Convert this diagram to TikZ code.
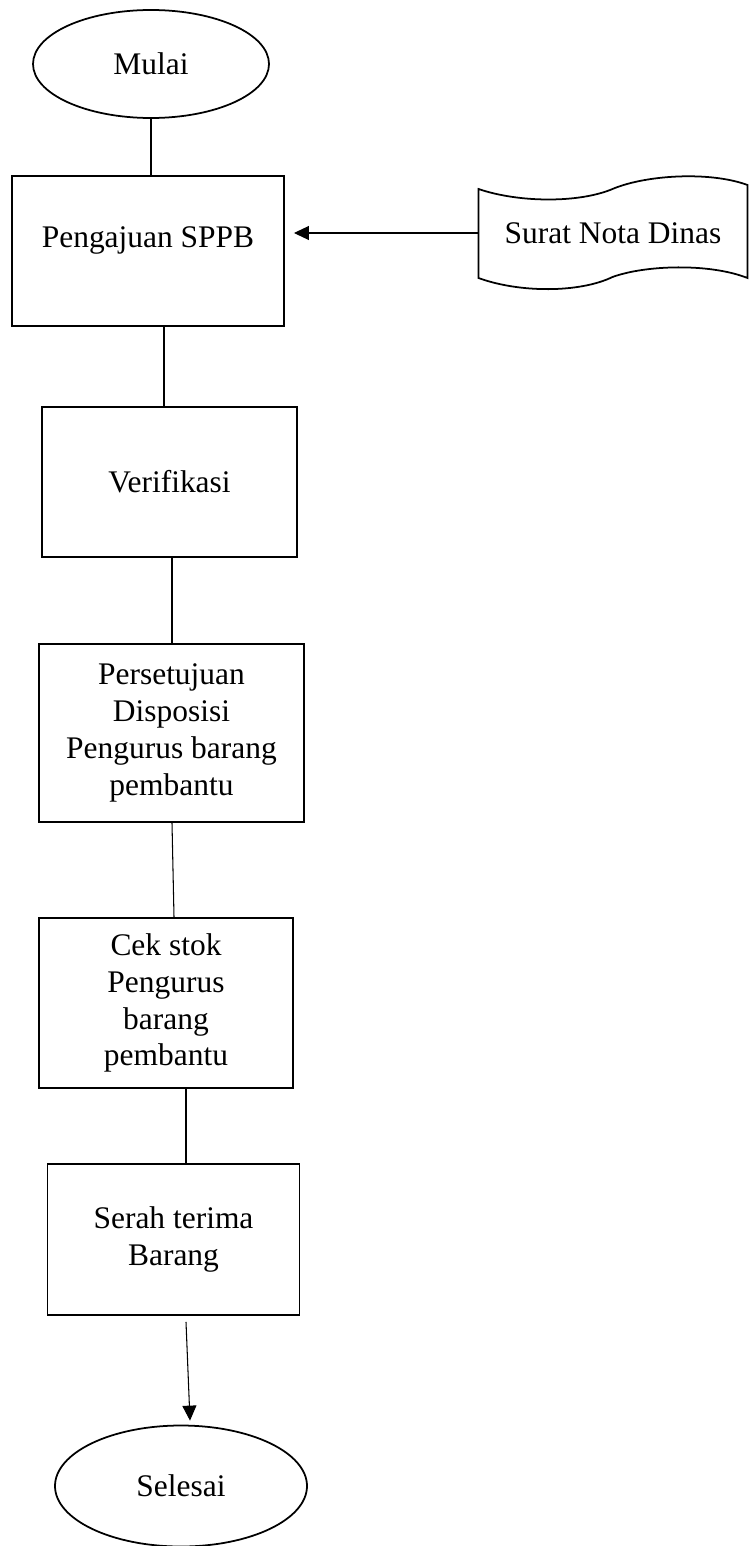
\documentclass[tikz,border=0pt]{standalone}
\usepackage{fontspec}
\setmainfont{Liberation Serif}
\usetikzlibrary{shapes.geometric, arrows.meta, calc}

\begin{document}
\begin{tikzpicture}[
    terminal/.style={ellipse, draw, line width=1pt, inner sep=0pt, font=\fontsize{17.9}{21}\selectfont},
    process/.style={rectangle, draw, line width=1.1pt, inner sep=2pt, align=center, font=\fontsize{17.9}{21}\selectfont},
    document/.style={rectangle, inner sep=0pt, font=\fontsize{17.9}{21}\selectfont},
    line/.style={line width=0.6pt},
    arrow/.style={line width=0.6pt, -{Triangle[length=0.3cm, width=0.28cm]}}
  ]

    % Canvas
    \useasboundingbox (0,0) rectangle (14.98,-30.92);

    % Start / end
    \node[terminal, minimum width=4.72cm, minimum height=2.16cm] (mulai) at (3.02,-1.28) {Mulai};
    \node[terminal, minimum width=5.04cm, minimum height=2.42cm] (selesai) at (3.62,-29.72) {Selesai};

    % Process steps
    \node[process, minimum width=5.44cm, minimum height=3.0cm, text depth=0.56cm] (ajukan) at (2.96,-5.02) {Pengajuan SPPB};
    \node[process, minimum width=5.1cm, minimum height=3.0cm] (verif) at (3.39,-9.64) {Verifikasi};
    \node[process, minimum width=5.3cm, minimum height=3.56cm] (setuju) at (3.43,-14.66) {Persetujuan\\Disposisi\\Pengurus barang\\pembantu};
    \node[process, minimum width=5.08cm, minimum height=3.4cm] (cek) at (3.32,-20.06) {Cek stok\\Pengurus\\barang\\pembantu};
    \node[process, minimum width=5.04cm, minimum height=3.02cm] (serah) at (3.47,-24.79) {Serah terima\\Barang};

    % Input document
    \node[document, minimum width=5.38cm, minimum height=1.8cm] (surat) at (12.26,-4.66) {Surat Nota Dinas};
    \draw[line width=1pt, shift={(surat.center)}]
      (-2.69,0.88) .. controls (-1.87,0.60) and (-0.67,0.60) .. (-0.01,0.88)
      .. controls (0.65,1.16) and (1.93,1.24) .. (2.69,0.96) -- (2.69,-0.90)
      .. controls (1.93,-0.60) and (0.65,-0.64) .. (-0.01,-0.88)
      .. controls (-0.67,-1.20) and (-1.87,-1.20) .. (-2.69,-0.90) -- cycle;

    % Lines
    \draw[line] (mulai.south) -- (mulai.south |- ajukan.north);
    \draw[line] ($(ajukan.south)+(0.32,0)$) -- ($(ajukan.south |- verif.north)+(0.32,0)$);
    \draw[line] ($(verif.south)+(0.05,0)$) -- ($(verif.south |- setuju.north)+(0.05,0)$);
    \draw[line] ($(setuju.south)+(0.01,0)$) -- ($(cek.north)+(0.16,0)$);
    \draw[line] ($(cek.south)+(0.4,0)$) -- ($(cek.south |- serah.north)+(0.4,0)$);
    \draw[arrow] ($(serah.south)+(0.25,-0.12)$) -- ($(selesai.north)+(0.18,0.08)$);
    \draw[arrow] (surat.west) -- ($(surat.west -| ajukan.east)+(0.18,0)$);

  \end{tikzpicture}
\end{document}
